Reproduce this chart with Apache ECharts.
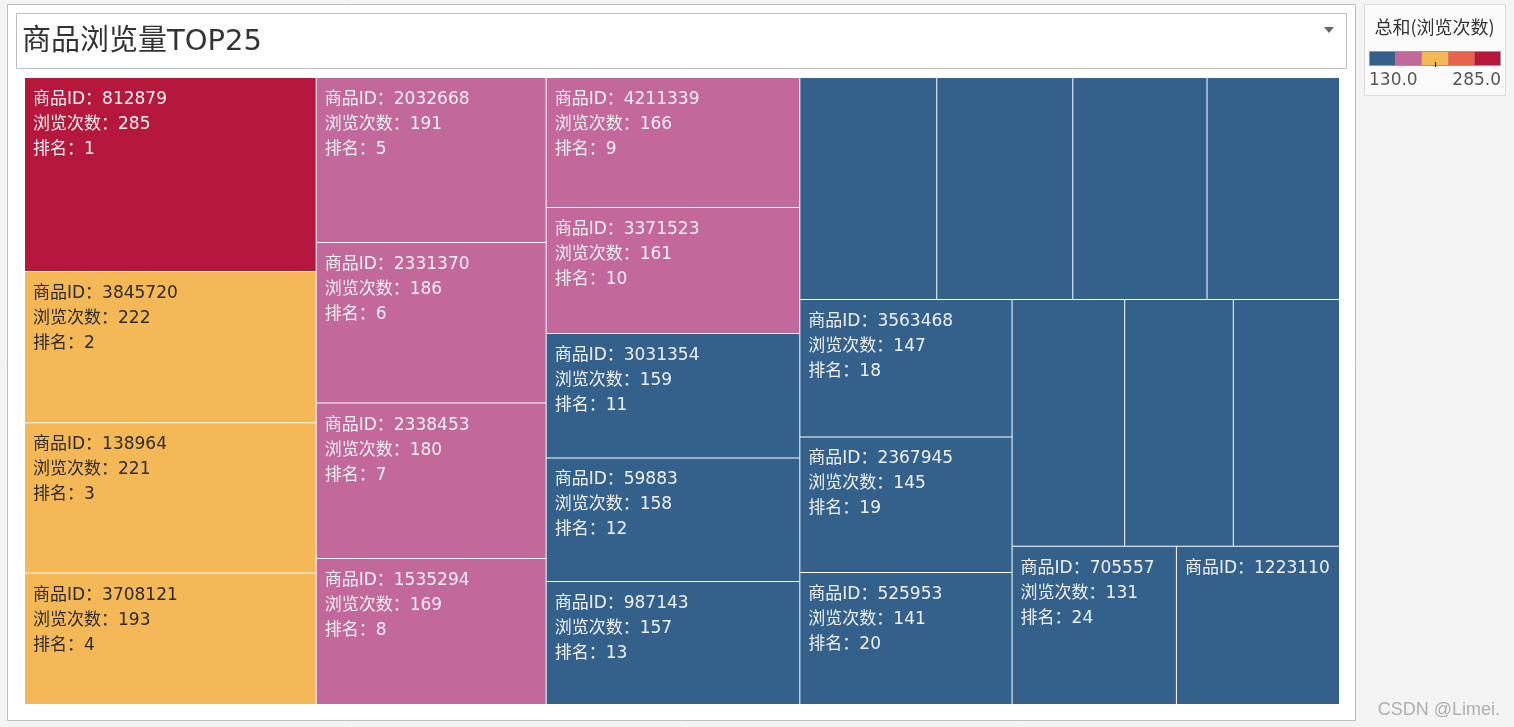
<!DOCTYPE html>
<html>
<head>
<meta charset="utf-8">
<title>商品浏览量TOP25</title>
<script src="https://cdn.jsdelivr.net/npm/echarts@6/dist/echarts.min.js"></script>
<style>
  html, body { margin: 0; padding: 0; background: #f4f4f4; }
  #chart { width: 1514px; height: 727px; }
</style>
</head>
<body>
<div id="chart"></div>
<script>
// 商品ID（14-17、21-23 在图上没有显示标签，ID 未知）
const goodsIds = [812879, 3845720, 138964, 3708121, 2032668, 2331370, 2338453, 1535294,
  4211339, 3371523, 3031354, 59883, 987143, null, null, null, null,
  3563468, 2367945, 525953, null, null, null, 705557, 1223110];
// 浏览次数（14-17、21-23 按面积估算）
const viewCounts = [285, 222, 221, 193, 191, 186, 180, 169,
  166, 161, 159, 158, 157, 153, 152, 150, 148,
  147, 145, 141, 140, 135, 132, 131, 130];
const ranks = goodsIds.map((d, i) => i + 1);
const hiddenRanks = [14, 15, 16, 17, 21, 22, 23]; // 方块太窄，不显示标签
const idOnlyRanks = [25];                          // 只显示第一行

const legendMin = 130, legendMax = 285;
const palette = ["#34608c", "#c2689b", "#f5b857", "#e5644a", "#b6173d"];
const font = "'DejaVu Sans', 'Noto Sans CJK SC', sans-serif";
const cjkFont = "'Noto Sans CJK SC', 'DejaVu Sans', sans-serif";

function pickColor(v) {
  const step = (legendMax - legendMin) / palette.length;
  let idx = Math.floor((v - legendMin) / step);
  if (idx >= palette.length) idx = palette.length - 1;
  if (idx < 0) idx = 0;
  return palette[idx];
}

const treeData = viewCounts.map((v, i) => {
  const rank = ranks[i];
  const color = pickColor(v);
  const dark = color === palette[2];
  return {
    name: goodsIds[i] == null ? "排名" + rank : String(goodsIds[i]),
    value: v,
    rank: rank,
    itemStyle: { color: color },
    label: {
      show: hiddenRanks.indexOf(rank) < 0,
      color: dark ? "#2b2b2b" : "#f0f0f0"
    }
  };
});

const chart = echarts.init(document.getElementById("chart"));

const legendX = 1369.5, legendW = 131, segW = legendW / palette.length;
const legendSegs = palette.map((c, i) => ({
  type: "rect",
  shape: { x: legendX + i * segW, y: 51.5, width: segW, height: 14 },
  style: { fill: c },
  z: 1
}));

chart.setOption({
  backgroundColor: "#f4f4f4",
  graphic: [
    // 主面板
    { type: "rect", shape: { x: 7.5, y: 4.5, width: 1348, height: 716 },
      style: { fill: "#fff", stroke: "#bdbdbd", lineWidth: 1 }, z: 0 },
    // 标题框
    { type: "rect", shape: { x: 16.5, y: 13.5, width: 1330, height: 55 },
      style: { fill: "#fff", stroke: "#bdbdbd", lineWidth: 1 }, z: 0 },
    { type: "text", x: 22, y: 42,
      style: { text: "商品浏览量TOP25", font: "29px " + font, fill: "#333",
        verticalAlign: "middle" }, z: 1 },
    { type: "polygon", shape: { points: [[1324, 27], [1334, 27], [1329, 33]] },
      style: { fill: "#666" }, z: 1 },
    // 图例
    { type: "rect", shape: { x: 1364.5, y: 4.5, width: 141, height: 91 },
      style: { fill: "#fbfbfb", stroke: "#dcdcdc", lineWidth: 1 }, z: 0 },
    { type: "text", x: 1434.5, y: 27,
      style: { text: "总和(浏览次数)", font: "18px " + cjkFont, fill: "#333",
        align: "center", verticalAlign: "middle" }, z: 1 },
    ...legendSegs,
    { type: "rect", shape: { x: legendX, y: 51.5, width: legendW, height: 14 },
      style: { fill: "none", stroke: "#999", lineWidth: 1 }, z: 2 },
    { type: "line", shape: { x1: 1435.5, y1: 62, x2: 1435.5, y2: 67 },
      style: { stroke: "#000", lineWidth: 1 }, z: 2 },
    { type: "text", x: 1369, y: 81,
      style: { text: legendMin.toFixed(1), font: "17px " + font, fill: "#555",
        verticalAlign: "middle" }, z: 1 },
    { type: "text", x: 1501, y: 81,
      style: { text: legendMax.toFixed(1), font: "17px " + font, fill: "#555",
        align: "right", verticalAlign: "middle" }, z: 1 },
    // 水印
    { type: "text", x: 1500, y: 710,
      style: { text: "CSDN @Limei.", font: "18px 'Liberation Sans', Arial, sans-serif",
        fill: "#b0b0b0", align: "right", verticalAlign: "middle" }, z: 1 }
  ],
  series: [
    {
      type: "treemap",
      left: 25,
      top: 78,
      width: 1314,
      height: 626,
      roam: false,
      nodeClick: false,
      breadcrumb: { show: false },
      animation: false,
      levels: [
        { itemStyle: { borderWidth: 0, gapWidth: 1, borderColor: "#fff" } }
      ],
      itemStyle: { borderWidth: 0 },
      label: {
        show: true,
        position: "insideTopLeft",
        padding: [9, 8],
        fontSize: 17,
        lineHeight: 25,
        fontFamily: font,
        overflow: "none",
        formatter: p => {
          const d = p.data;
          if (idOnlyRanks.indexOf(d.rank) >= 0) return "商品ID：" + d.name;
          return "商品ID：" + d.name + "\n浏览次数：" + d.value + "\n排名：" + d.rank;
        }
      },
      emphasis: { disabled: true },
      data: treeData
    }
  ]
});
</script>
</body>
</html>
